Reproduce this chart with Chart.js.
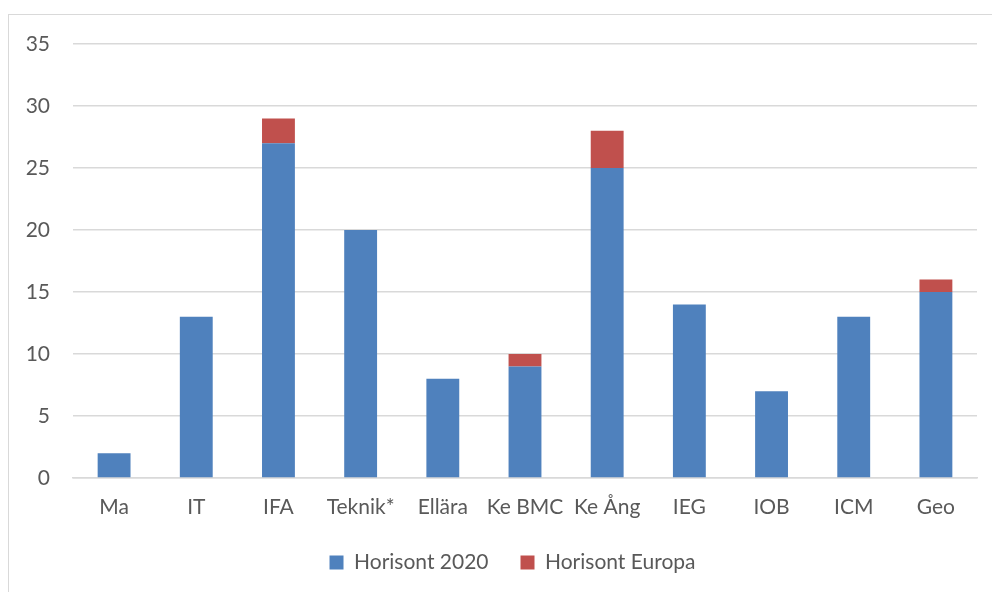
<!DOCTYPE html>
<html>
<head>
<meta charset="utf-8">
<script src="https://cdn.jsdelivr.net/npm/chart.js@4/dist/chart.umd.min.js"></script>
<style>
  html, body { margin: 0; padding: 0; background: #fff; overflow: hidden; }
  #ram { position: absolute; left: 8px; top: 14px; width: 1000px; height: 600px; border: 1.5px solid #d9d9d9; }
  #wrap { position: absolute; left: 0; top: 0; width: 992px; height: 592px; }
</style>
</head>
<body>
<div id="ram"></div>
<div id="wrap"><canvas id="chart" width="992" height="592"></canvas></div>
<script>
// --- Data ---
const kategorier = ["Ma", "IT", "IFA", "Teknik*", "Ellära", "Ke BMC", "Ke Ång", "IEG", "IOB", "ICM", "Geo"];
const horisont2020 = [2, 13, 27, 20, 8, 9, 25, 14, 7, 13, 15];
const horisontEuropa = [0, 0, 2, 0, 0, 1, 3, 0, 0, 0, 1];
const yTicks = [0, 5, 10, 15, 20, 25, 30, 35];

const textColor = "#595959";
const gridColor = "#d9d9d9";
const font = { family: "Lato, 'Open Sans', sans-serif", size: 21 };

// centrera legenden över hela ramen, inte bara över canvasen
const legendShift = {
  id: "legendShift",
  afterLayout(chart) {
    chart.legend.left += 24;
    chart.legend.right += 24;
  }
};

const ctx = document.getElementById("chart").getContext("2d");
new Chart(ctx, {
  type: "bar",
  data: {
    labels: kategorier,
    datasets: [
      {
        label: "Horisont 2020",
        data: horisont2020,
        backgroundColor: "#4f81bd",
        barPercentage: 0.4,
        categoryPercentage: 1
      },
      {
        label: "Horisont Europa",
        data: horisontEuropa,
        backgroundColor: "#c0504d",
        barPercentage: 0.4,
        categoryPercentage: 1
      }
    ]
  },
  options: {
    responsive: false,
    animation: false,
    layout: { padding: { left: 0, right: 15, top: 44, bottom: 9 } },
    scales: {
      x: {
        stacked: true,
        afterFit: axis => { axis.height = 42; },
        grid: { display: false, drawTicks: false },
        border: { color: gridColor, width: 1.5 },
        ticks: { color: textColor, font: font, padding: 17, maxRotation: 0, minRotation: 0, autoSkip: false }
      },
      y: {
        stacked: true,
        min: 0,
        max: 35,
        afterBuildTicks: axis => { axis.ticks = yTicks.map(v => ({ value: v })); },
        afterFit: axis => { axis.width = 73; },
        grid: { color: gridColor, lineWidth: 1.5, drawTicks: false },
        border: { display: false },
        ticks: { color: textColor, font: font, padding: 23 }
      }
    },
    plugins: {
      legend: {
        position: "bottom",
        labels: {
          color: textColor,
          font: font,
          boxWidth: 14,
          boxHeight: 14,
          padding: 32
        }
      },
      tooltip: { enabled: false }
    }
  },
  plugins: [legendShift]
});
</script>
</body>
</html>
